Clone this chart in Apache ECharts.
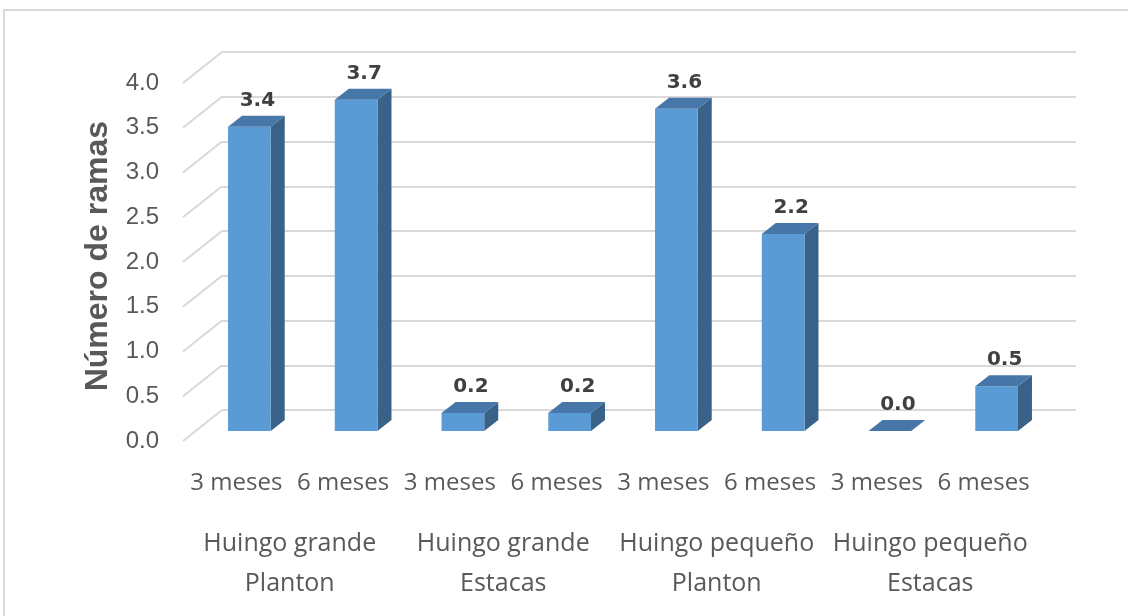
<!DOCTYPE html>
<html>
<head>
<meta charset="utf-8">
<script src="https://cdn.jsdelivr.net/npm/echarts@6/dist/echarts.min.js"></script>
<style>
  html, body { margin: 0; padding: 0; background: #ffffff; }
  #chart { width: 1128px; height: 616px; }
</style>
</head>
<body>
<div id="chart"></div>
<script>
// Número de ramas por tratamiento, a los 3 y 6 meses
const categories = ['3 meses', '6 meses', '3 meses', '6 meses', '3 meses', '6 meses', '3 meses', '6 meses'];
const groups = ['Huingo grande\nPlanton', 'Huingo grande\nEstacas', 'Huingo pequeño\nPlanton', 'Huingo pequeño\nEstacas'];
const values = [3.4, 3.7, 0.2, 0.2, 3.6, 2.2, 0.0, 0.5];
const yTicks = [0, 0.5, 1, 1.5, 2, 2.5, 3, 3.5, 4];
const yAxisTitle = 'Número de ramas';

const chart = echarts.init(document.getElementById('chart'), null, { renderer: 'canvas' });

// depth of the 3D floor (back wall -> front edge) and of each bar
const FLOOR_DX = -39, FLOOR_DY = 31;
const BAR_DX = 14, BAR_DY = -11;

const FRONT = '#5b9bd5';
const SIDE = '#386287';
const TOP = '#4677a8';

const labelFont = "'Open Sans', 'Noto Sans', sans-serif";

function bar3D(params, api) {
  const idx = api.value(0);
  const v = api.value(1);
  const top = api.coord([idx, v]);
  const base = api.coord([idx, 0]);
  const w = api.size([1, 0])[0] * 0.4;
  const x0 = top[0] - w / 2, x1 = top[0] + w / 2;
  const yt = top[1], yb = base[1];
  const children = [];
  if (yb - yt > 0.5) {
    children.push({
      type: 'polygon',
      shape: { points: [[x1, yt], [x1 + BAR_DX, yt + BAR_DY], [x1 + BAR_DX, yb + BAR_DY], [x1, yb]] },
      style: { fill: SIDE }
    });
    children.push({
      type: 'rect',
      shape: { x: x0, y: yt, width: w, height: yb - yt },
      style: { fill: FRONT }
    });
  }
  children.push({
    type: 'polygon',
    shape: { points: [[x0, yt], [x0 + BAR_DX, yt + BAR_DY], [x1 + BAR_DX, yt + BAR_DY], [x1, yt]] },
    style: { fill: TOP }
  });
  children.push({
    type: 'text',
    style: {
      text: v.toFixed(1),
      x: top[0] + BAR_DX / 2 + 1,
      y: yt + BAR_DY - 15,
      align: 'center',
      verticalAlign: 'middle',
      fill: '#404040',
      font: "bold 20px 'DejaVu Sans', sans-serif"
    }
  });
  return { type: 'group', children: children };
}

function wallEdge(params, api) {
  const p = api.coord([0, api.value(0)]);
  const x = params.coordSys.x;
  return {
    type: 'line',
    shape: { x1: x, y1: p[1], x2: x + FLOOR_DX, y2: p[1] + FLOOR_DY },
    style: { stroke: '#d9d9d9', lineWidth: 2 }
  };
}

const option = {
  backgroundColor: '#ffffff',
  animation: false,
  graphic: [{
    type: 'rect',
    shape: { x: 4, y: 10, width: 1200, height: 700 },
    style: { fill: 'none', stroke: '#d9d9d9', lineWidth: 2 },
    silent: true
  }, {
    type: 'text',
    left: 82, top: 121,
    rotation: Math.PI / 2,
    style: {
      text: yAxisTitle,
      fill: '#595959',
      font: "bold 32px 'Liberation Sans', Arial, sans-serif"
    }
  }],
  grid: [
    // back wall
    { left: 222, right: 52, top: 52, bottom: 206, outerBoundsMode: 'none', containLabel: false },
    // front edge of the floor
    { left: 183, right: 91, top: 83, bottom: 175, outerBoundsMode: 'none', containLabel: false },
    // front faces of the bars
    { left: 196, right: 78, top: 73, bottom: 185, outerBoundsMode: 'none', containLabel: false }
  ],
  xAxis: [
    { gridIndex: 0, type: 'category', data: categories, show: false },
    {
      gridIndex: 1, type: 'category', data: categories, position: 'bottom',
      axisLine: { show: false }, axisTick: { show: false },
      axisLabel: { interval: 0, margin: 28, color: '#595959', fontFamily: labelFont, fontSize: 24, lineHeight: 28 }
    },
    {
      gridIndex: 1, type: 'category', data: groups, position: 'bottom',
      axisLine: { show: false }, axisTick: { show: false },
      axisLabel: { interval: 0, margin: 83, color: '#595959', fontFamily: labelFont, fontSize: 25, lineHeight: 40 }
    },
    { gridIndex: 2, type: 'category', data: categories, show: false }
  ],
  yAxis: [
    {
      gridIndex: 0, type: 'value', min: 0, max: 4, interval: 0.5,
      axisLabel: { show: false }, axisLine: { show: false }, axisTick: { show: false },
      splitLine: { lineStyle: { color: '#d9d9d9', width: 2 } }
    },
    {
      gridIndex: 1, type: 'value', min: 0, max: 4, interval: 0.5,
      axisLine: { show: false }, axisTick: { show: false }, splitLine: { show: false },
      axisLabel: {
        margin: 24, color: '#595959', fontSize: 24,
        fontFamily: "'Liberation Sans', Arial, sans-serif",
        formatter: v => v.toFixed(1)
      }
    },
    { gridIndex: 2, type: 'value', min: 0, max: 4, show: false, splitLine: { show: false } }
  ],
  series: [
    {
      type: 'custom',
      xAxisIndex: 0, yAxisIndex: 0,
      renderItem: wallEdge,
      data: yTicks.map(t => [t]),
      encode: { y: 0 },
      silent: true,
      z: 1
    },
    {
      type: 'custom',
      xAxisIndex: 3, yAxisIndex: 2,
      renderItem: bar3D,
      data: values.map((v, i) => [i, v]),
      encode: { x: 0, y: 1 },
      z: 5
    }
  ]
};

chart.setOption(option);
</script>
</body>
</html>
